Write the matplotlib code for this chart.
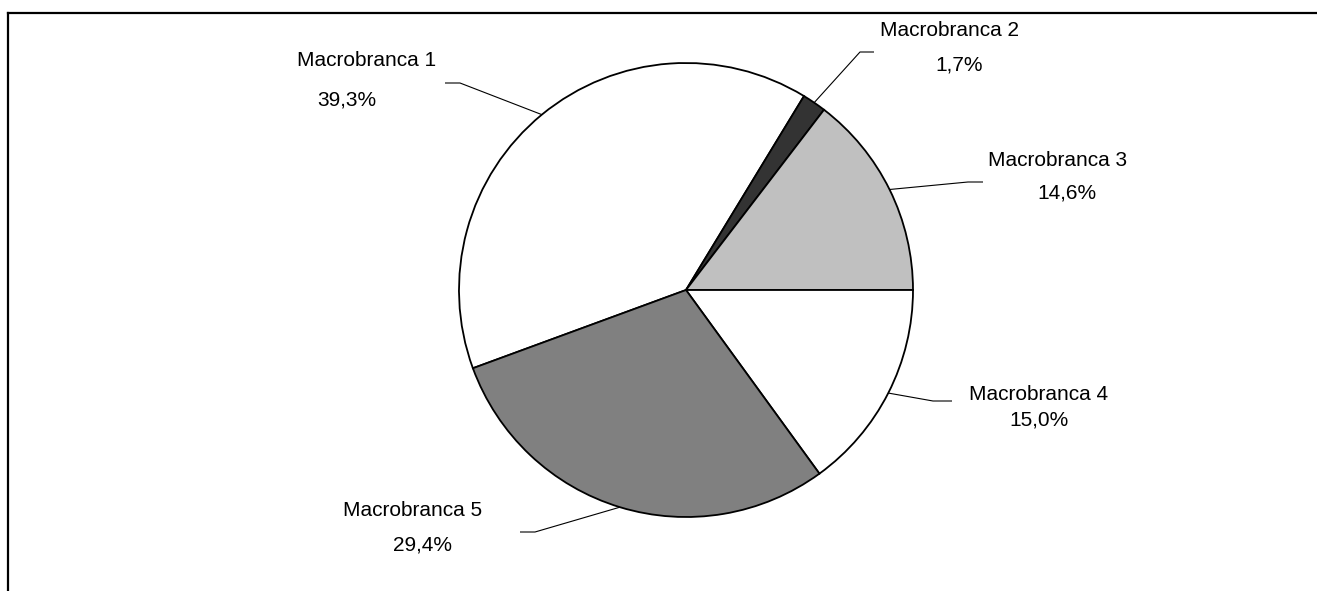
import numpy as np
import matplotlib
matplotlib.use("Agg")
import matplotlib.pyplot as plt

# Share of each macro-branch
names = ["Macrobranca 1", "Macrobranca 2", "Macrobranca 3", "Macrobranca 4", "Macrobranca 5"]
shares = [39.3, 1.7, 14.6, 15.0, 29.4]
fills = ["#ffffff", "#333333", "#c0c0c0", "#ffffff", "#808080"]

W, H = 1317, 591
fig = plt.figure(figsize=(W / 100, H / 100), dpi=100)
ax = fig.add_axes([0, 0, 1, 1])
ax.set_xlim(0, W)
ax.set_ylim(0, H)
ax.set_aspect("equal")
ax.axis("off")

plt.rcParams["font.family"] = ["Liberation Sans", "DejaVu Sans"]

cx, cy, r = 686, H - 290, 227
wedges, _ = ax.pie(shares, colors=fills, startangle=200.16, counterclock=False,
                   center=(cx, cy), radius=r, frame=True,
                   wedgeprops=dict(edgecolor="black", linewidth=1.3))
ax.set_xlim(0, W)
ax.set_ylim(0, H)
ax.axis("off")

# label layout (pixel coordinates from the top-left)
elbows = [(460, 83), (860, 52), (968, 182), (933, 401), (535, 532)]
ends = [(445, 83), (874, 52), (983, 182), (952, 401), (520, 532)]
name_pos = [(367, 60), (950, 31), (1058, 160), (1039, 395), (413, 511)]
pct_pos = [(347, 100), (959, 65), (1067, 193), (1039, 420), (423, 545)]

for w, name, val, el, en, npos, ppos in zip(wedges, names, shares, elbows, ends,
                                            name_pos, pct_pos):
    mid = np.deg2rad((w.theta1 + w.theta2) / 2)
    rim = (cx + r * np.cos(mid), cy + r * np.sin(mid))
    ax.plot([rim[0], el[0], en[0]], [rim[1], H - el[1], H - en[1]],
            color="black", linewidth=0.8, solid_capstyle="butt", zorder=3)
    ax.text(npos[0], H - npos[1], name, ha="center", va="center", fontsize=15)
    ax.text(ppos[0], H - ppos[1], f"{val:.1f}".replace(".", ",") + "%",
            ha="center", va="center", fontsize=15)

# chart area border (top and left edges)
ax.plot([8, W], [H - 13, H - 13], color="black", linewidth=1.6, clip_on=False)
ax.plot([8, 8], [H - 13, 0], color="black", linewidth=1.6, clip_on=False)

fig.savefig("out.png", dpi=100, facecolor="white")
